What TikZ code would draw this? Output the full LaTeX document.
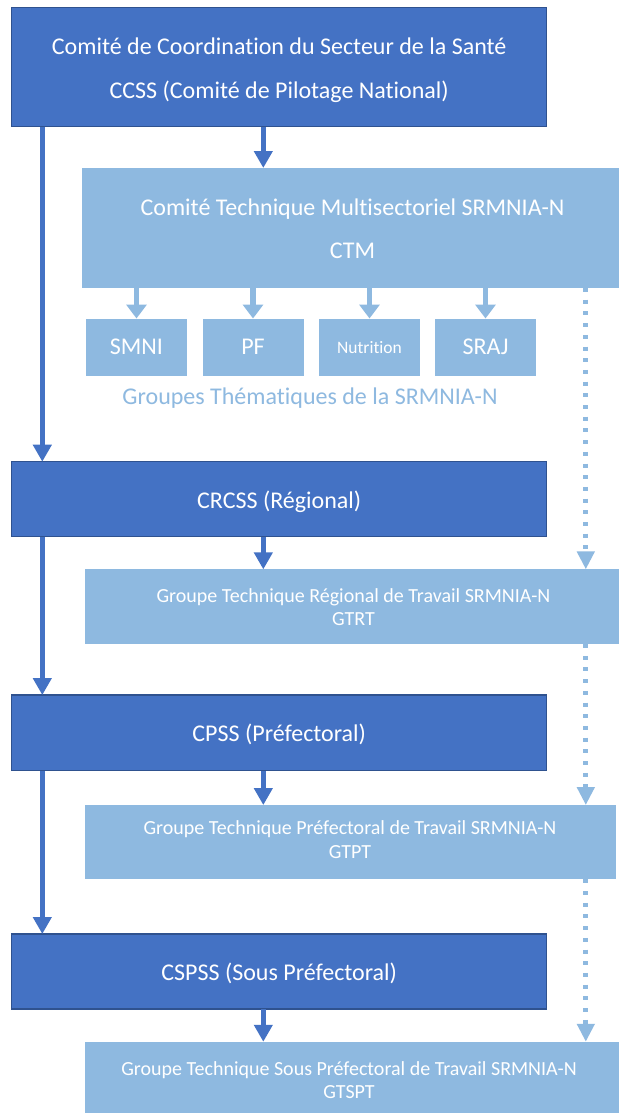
\documentclass[tikz,border=0pt]{standalone}
\usepackage{fontspec}
\setmainfont{Carlito}[Ligatures=NoCommon]
\usetikzlibrary{arrows.meta}
\definecolor{darkblue}{HTML}{4472C4}
\definecolor{darkedge}{HTML}{2F528F}
\definecolor{lightblue}{HTML}{8EB9E0}
\begin{document}
\begin{tikzpicture}[x=1pt,y=-1pt,
  level/.style={draw=darkedge, line width=1.4pt, fill=darkblue, inner sep=0pt, outer sep=0pt},
  tech/.style={fill=lightblue, inner sep=0pt, outer sep=0pt},
  bigtxt/.style={text=white, font=\fontsize{24}{28}\selectfont, anchor=base, inner sep=0pt},
  midtxt/.style={text=white, font=\fontsize{20}{24}\selectfont, anchor=base, inner sep=0pt},
  darrow/.style={draw=darkblue, line width=5pt, -{Triangle[width=18pt,length=17pt]}},
  larrow/.style={draw=lightblue, line width=5.5pt, -{Triangle[width=20pt,length=14pt]}},
  dotarrow/.style={draw=lightblue, line width=5pt, dash pattern=on 4pt off 7.7pt, -{Triangle[width=17pt,length=18pt]}},
]
\useasboundingbox[fill=white] (0,0) rectangle (619,1113);

% columns of the connectors
\coordinate (lx) at (42.3,0);
\coordinate (mx) at (263.3,0);
\coordinate (dx) at (585.8,0);

% national level
\node[level, minimum width=535, minimum height=119.4] (ccss) at (279.2,67) {};
\node[bigtxt] (ccss1) at (279.2,55) {Comité de Coordination du Secteur de la Santé};
\node[bigtxt] (ccss2) at (279.2,98.3) {CCSS (Comité de Pilotage National)};

\node[tech, minimum width=537, minimum height=120] (ctm) at (350.5,228) {};
\node[bigtxt] (ctm1) at (352.5,215) {Comité Technique Multisectoriel SRMNIA-N};
\node[bigtxt] (ctm2) at (352.5,258) {CTM};

% thematic groups
\foreach \n/\x/\t/\s in {smni/136.5/SMNI/24, pf/253/PF/24, nutri/369.5/Nutrition/17.5, sraj/485.5/SRAJ/24}{
  \node[tech, minimum width=101, minimum height=57.2] (\n) at (\x,347.1) {};
  \node[text=white, font=\fontsize{\s}{\s}\selectfont, inner sep=0pt] (\n t) at (\n) {\t};
  \draw[larrow] (\n.north |- ctm.south) -- (\n.north);
}
\node[text=lightblue, font=\fontsize{24}{28}\selectfont, anchor=base, inner sep=0pt] (cap) at (310,404) {Groupes Thématiques de la SRMNIA-N};

% regional level
\node[level, minimum width=535, minimum height=75] (crcss) at (279.2,499.2) {};
\node[bigtxt] (crcsst) at (279.2,508.3) {CRCSS (Régional)};
\node[tech, minimum width=534, minimum height=74.7] (gtrt) at (352,606.7) {};
\node[midtxt] (gtrt1) at (353.5,602.7) {Groupe Technique Régional de Travail SRMNIA-N};
\node[midtxt] (gtrt2) at (353.5,625.7) {GTRT};

% prefectoral level
\node[level, minimum width=535, minimum height=75.7] (cpss) at (279.2,732.9) {};
\node[bigtxt] (cpsst) at (279.2,741) {CPSS (Préfectoral)};
\node[tech, minimum width=531, minimum height=74.3] (gtpt) at (350.5,842.2) {};
\node[midtxt] (gtpt1) at (350,834) {Groupe Technique Préfectoral de Travail SRMNIA-N};
\node[midtxt] (gtpt2) at (350,858.3) {GTPT};

% sub-prefectoral level
\node[level, minimum width=535, minimum height=75] (cspss) at (279.2,971.5) {};
\node[bigtxt] (cspsst) at (279.2,980) {CSPSS (Sous Préfectoral)};
\node[tech, minimum width=534, minimum height=71.3] (gtspt) at (352,1077.4) {};
\node[midtxt] (gtspt1) at (349,1075) {Groupe Technique Sous Préfectoral de Travail SRMNIA-N};
\node[midtxt] (gtspt2) at (349,1098.3) {GTSPT};

% hierarchy between committees
\draw[darrow] (ccss.south -| lx) -- (crcss.north -| lx);
\draw[darrow] (crcss.south -| lx) -- (cpss.north -| lx);
\draw[darrow] (cpss.south -| lx) -- (cspss.north -| lx);

% committee to its technical group
\draw[darrow] (ccss.south -| mx) -- (ctm.north -| mx);
\draw[darrow] (crcss.south -| mx) -- (gtrt.north -| mx);
\draw[darrow] (cpss.south -| mx) -- (gtpt.north -| mx);
\draw[darrow] (cspss.south -| mx) -- (gtspt.north -| mx);

% technical support chain
\draw[dotarrow] (ctm.south -| dx) -- (gtrt.north -| dx);
\draw[dotarrow] (gtrt.south -| dx) -- (gtpt.north -| dx);
\draw[dotarrow] (gtpt.south -| dx) -- (gtspt.north -| dx);
\end{tikzpicture}
\end{document}
